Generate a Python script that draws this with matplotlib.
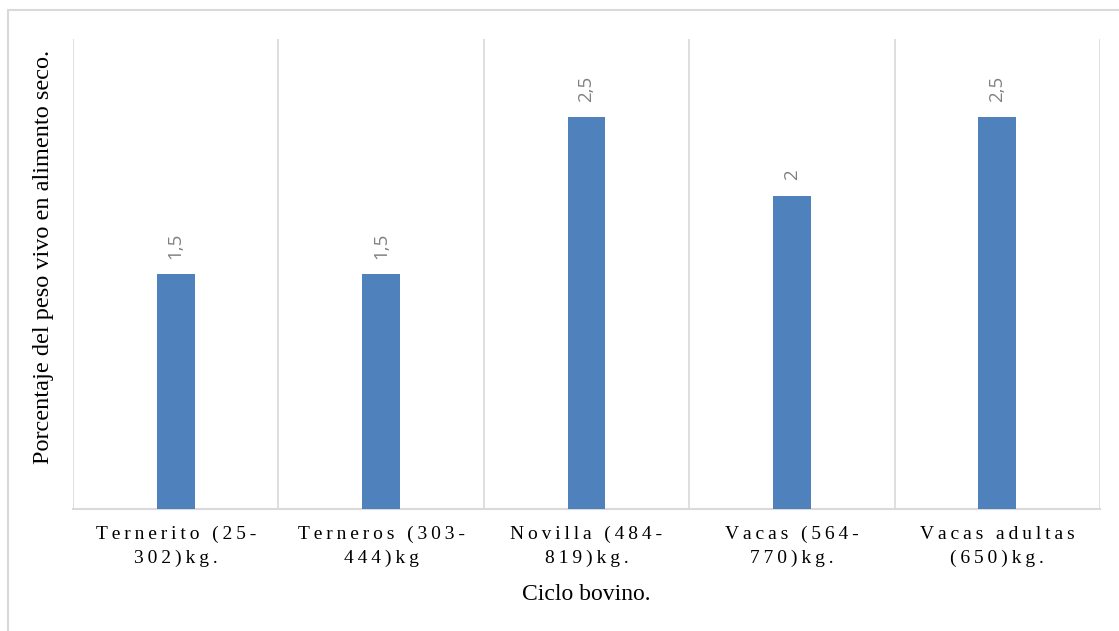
import matplotlib
matplotlib.use("Agg")
import matplotlib.pyplot as plt
from matplotlib.patches import Rectangle

categories = ["Ternerito (25-\n302)kg.", "Terneros (303-\n444)kg",
              "Novilla (484-\n819)kg.", "Vacas (564-\n770)kg.",
              "Vacas adultas\n(650)kg."]
values = [1.5, 1.5, 2.5, 2.0, 2.5]
value_labels = ["1,5", "1,5", "2,5", "2", "2,5"]

SERIF = ["Liberation Serif", "DejaVu Serif"]
GRID = "#d9d9d9"
BAR = "#4f81bd"


def spaced(text):
    """Widen tracking by inserting thin spaces between characters."""
    lines = text.split("\n")
    return "\n".join("\u2009".join(line) for line in lines)


fig = plt.figure(figsize=(11.19, 6.31), dpi=100)
ax = fig.add_axes([73 / 1119, 1 - 509 / 631, 1027 / 1119, 470 / 631])

x = list(range(len(categories)))
ax.bar(x, values, width=0.185, color=BAR, zorder=3)

ax.set_xlim(-0.5, len(categories) - 0.5)
ax.set_ylim(0, 3)

# category separators
for b in [i - 0.5 for i in range(len(categories) + 1)]:
    ax.axvline(b, color=GRID, lw=1.2, zorder=1)

for s in ["top", "right", "left"]:
    ax.spines[s].set_visible(False)
ax.spines["bottom"].set_color(GRID)
ax.spines["bottom"].set_linewidth(1.5)

ax.set_yticks([])
ax.set_xticks(x)
ax.set_xticklabels([spaced(c) for c in categories], family=SERIF,
                   fontsize=14, linespacing=1.5)
ax.tick_params(axis="x", length=0, pad=12)

for xi, v, lab in zip(x, values, value_labels):
    ax.annotate(lab, (xi, v), xytext=(0, 11), textcoords="offset points",
                rotation=90, ha="center", va="bottom", color="#808080",
                fontsize=13.5, family=["Open Sans", "DejaVu Sans"])

ax.set_xlabel("Ciclo bovino.", family=SERIF, fontsize=17)
ax.xaxis.set_label_coords(0.5, -0.16)
ax.set_ylabel("Porcentaje del peso vivo en alimento seco.", family=SERIF,
              fontsize=17.5, va="center")
ax.yaxis.set_label_coords(-0.029, 0.536)

# chart frame
fig.patches.append(Rectangle((8 / 1119, -0.05), 1.2, 1 - 10 / 631 + 0.05,
                             transform=fig.transFigure, fill=False,
                             edgecolor=GRID, lw=1.5))

fig.savefig("out.png", dpi=100, facecolor="white")
